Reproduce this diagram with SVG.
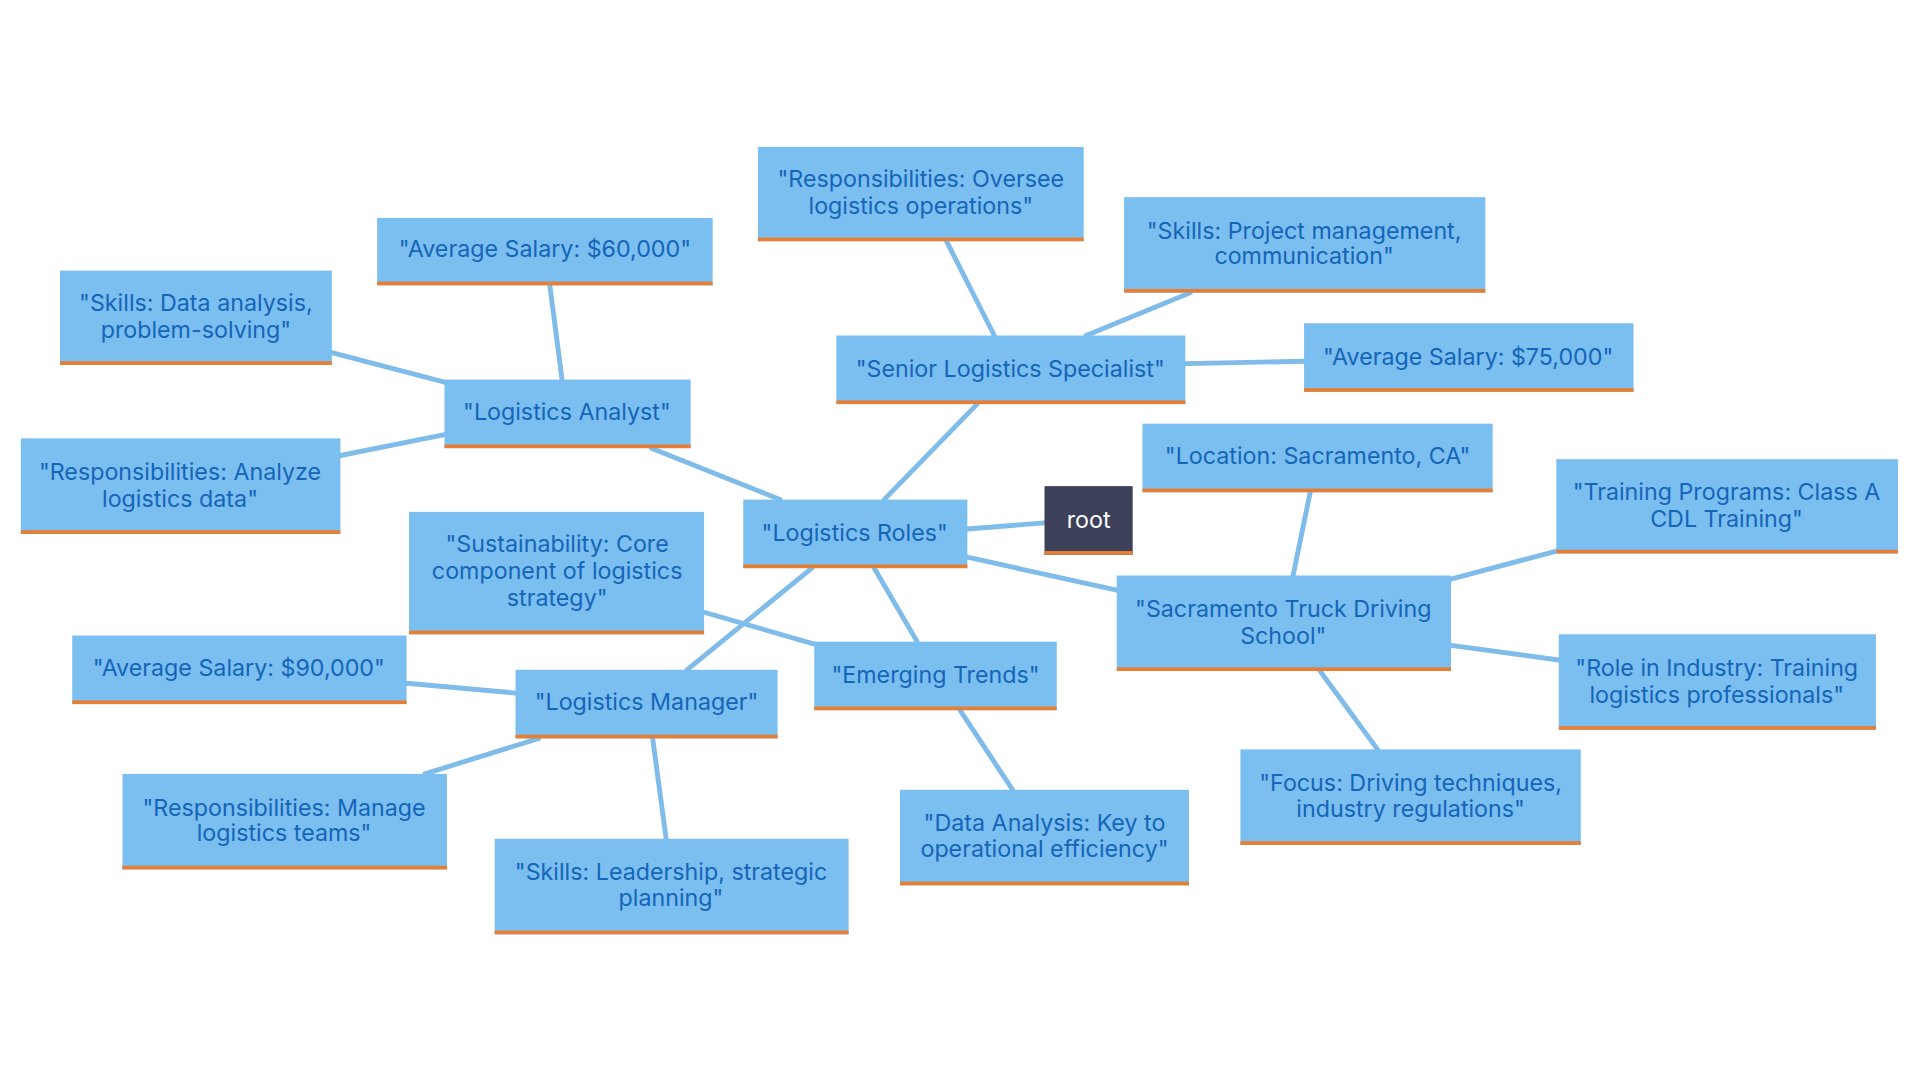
<svg xmlns="http://www.w3.org/2000/svg" width="1920" height="1080" viewBox="0 0 1920 1080">
<style>
.n rect.b{fill:#7bbef0}
.n rect.o{fill:#e67e33}
.n text{font-family:Inter,"Open Sans",sans-serif;font-size:19px;fill:#1565b8;text-anchor:middle}
#connectors line{stroke:#7fbce9;stroke-width:4;stroke-linecap:round}
</style>
<rect width="1920" height="1080" fill="#fff"/>
<g transform="scale(1.2245)">
<g id="connectors">
<line x1="790" y1="432" x2="853" y2="427"/>
<line x1="637" y1="408" x2="532" y2="366"/>
<line x1="722" y1="408" x2="798" y2="330"/>
<line x1="790" y1="455" x2="912" y2="482"/>
<line x1="714" y1="464" x2="749" y2="524"/>
<line x1="663" y1="464" x2="561" y2="547"/>
<line x1="459" y1="310" x2="449" y2="233"/>
<line x1="363" y1="312" x2="271" y2="288"/>
<line x1="363" y1="355" x2="278" y2="372"/>
<line x1="812" y1="274" x2="773" y2="197"/>
<line x1="887" y1="274" x2="972" y2="239"/>
<line x1="968" y1="297" x2="1065" y2="295"/>
<line x1="1056" y1="470" x2="1070" y2="402"/>
<line x1="1185" y1="473" x2="1271" y2="450"/>
<line x1="1185" y1="527" x2="1273" y2="539"/>
<line x1="1078" y1="548" x2="1125" y2="612"/>
<line x1="665" y1="526" x2="575" y2="500"/>
<line x1="784" y1="580" x2="827" y2="645"/>
<line x1="421" y1="566" x2="332" y2="558"/>
<line x1="440" y1="603" x2="347" y2="632"/>
<line x1="533" y1="603" x2="544" y2="685"/>
</g>
<g id="root" class="n"><rect class="b" x="853" y="397" width="72" height="56" style="fill:#3d4059"/><rect class="o" x="853" y="450" width="72" height="3"/><text x="889" y="431" style="fill:#fff">root</text></g>
<g id="roles" class="n"><rect class="b" x="607" y="408" width="183" height="56"/><rect class="o" x="607" y="461" width="183" height="3"/><text x="698" y="442">"Logistics Roles"</text></g>
<g id="analyst" class="n"><rect class="b" x="363" y="310" width="201" height="56"/><rect class="o" x="363" y="363" width="201" height="3"/><text x="463" y="343">"Logistics Analyst"</text></g>
<g id="a60" class="n"><rect class="b" x="308" y="178" width="274" height="55"/><rect class="o" x="308" y="230" width="274" height="3"/><text x="445" y="210">"Average Salary: $60,000"</text></g>
<g id="askills" class="n"><rect class="b" x="49" y="221" width="222" height="77"/><rect class="o" x="49" y="295" width="222" height="3"/><text x="160" y="254">"Skills: Data analysis,</text><text x="160" y="276">problem-solving"</text></g>
<g id="aresp" class="n"><rect class="b" x="17" y="358" width="261" height="78"/><rect class="o" x="17" y="433" width="261" height="3"/><text x="147" y="392">"Responsibilities: Analyze</text><text x="147" y="414">logistics data"</text></g>
<g id="senior" class="n"><rect class="b" x="683" y="274" width="285" height="56"/><rect class="o" x="683" y="327" width="285" height="3"/><text x="825" y="308">"Senior Logistics Specialist"</text></g>
<g id="soversee" class="n"><rect class="b" x="619" y="120" width="266" height="77"/><rect class="o" x="619" y="194" width="266" height="3"/><text x="752" y="153">"Responsibilities: Oversee</text><text x="752" y="175">logistics operations"</text></g>
<g id="sskills" class="n"><rect class="b" x="918" y="161" width="295" height="78"/><rect class="o" x="918" y="236" width="295" height="3"/><text x="1065" y="195">"Skills: Project management,</text><text x="1065" y="216">communication"</text></g>
<g id="s75" class="n"><rect class="b" x="1065" y="264" width="269" height="56"/><rect class="o" x="1065" y="317" width="269" height="3"/><text x="1199" y="298">"Average Salary: $75,000"</text></g>
<g id="sac" class="n"><rect class="b" x="912" y="470" width="273" height="78"/><rect class="o" x="912" y="545" width="273" height="3"/><text x="1048" y="504">"Sacramento Truck Driving</text><text x="1048" y="526">School"</text></g>
<g id="loc" class="n"><rect class="b" x="933" y="346" width="286" height="56"/><rect class="o" x="933" y="399" width="286" height="3"/><text x="1076" y="379">"Location: Sacramento, CA"</text></g>
<g id="train" class="n"><rect class="b" x="1271" y="375" width="279" height="77"/><rect class="o" x="1271" y="449" width="279" height="3"/><text x="1410" y="408">"Training Programs: Class A</text><text x="1410" y="430">CDL Training"</text></g>
<g id="role" class="n"><rect class="b" x="1273" y="518" width="259" height="78"/><rect class="o" x="1273" y="593" width="259" height="3"/><text x="1402" y="552">"Role in Industry: Training</text><text x="1402" y="574">logistics professionals"</text></g>
<g id="focus" class="n"><rect class="b" x="1013" y="612" width="278" height="78"/><rect class="o" x="1013" y="687" width="278" height="3"/><text x="1152" y="646">"Focus: Driving techniques,</text><text x="1152" y="667">industry regulations"</text></g>
<g id="emerging" class="n"><rect class="b" x="665" y="524" width="198" height="56"/><rect class="o" x="665" y="577" width="198" height="3"/><text x="764" y="558">"Emerging Trends"</text></g>
<g id="sust" class="n"><rect class="b" x="334" y="418" width="241" height="100"/><rect class="o" x="334" y="515" width="241" height="3"/><text x="455" y="451">"Sustainability: Core</text><text x="455" y="473">component of logistics</text><text x="455" y="495">strategy"</text></g>
<g id="data" class="n"><rect class="b" x="735" y="645" width="236" height="78"/><rect class="o" x="735" y="720" width="236" height="3"/><text x="853" y="679">"Data Analysis: Key to</text><text x="853" y="700">operational efficiency"</text></g>
<g id="manager" class="n"><rect class="b" x="421" y="547" width="214" height="56"/><rect class="o" x="421" y="600" width="214" height="3"/><text x="528" y="580">"Logistics Manager"</text></g>
<g id="m90" class="n"><rect class="b" x="59" y="519" width="273" height="56"/><rect class="o" x="59" y="572" width="273" height="3"/><text x="195" y="552">"Average Salary: $90,000"</text></g>
<g id="mresp" class="n"><rect class="b" x="100" y="632" width="265" height="78"/><rect class="o" x="100" y="707" width="265" height="3"/><text x="232" y="666">"Responsibilities: Manage</text><text x="232" y="687">logistics teams"</text></g>
<g id="mskills" class="n"><rect class="b" x="404" y="685" width="289" height="78"/><rect class="o" x="404" y="760" width="289" height="3"/><text x="548" y="719">"Skills: Leadership, strategic</text><text x="548" y="740">planning"</text></g>
</g>
</svg>
